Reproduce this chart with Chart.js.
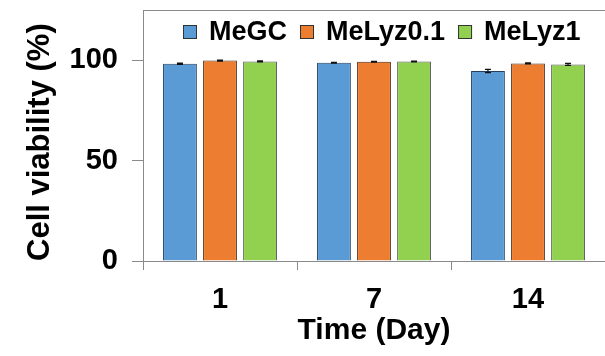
<!DOCTYPE html>
<html lang="en">
<head>
<meta charset="UTF-8">
<title>Cell viability over time</title>
<script src="https://cdn.jsdelivr.net/npm/chart.js"></script>
<style>
  body { margin: 0; background: #fff; }
</style>
</head>
<body>
<canvas id="chart" width="605" height="356"></canvas>
<script>
// data
const days = ['1', '7', '14'];
const seriesNames = ['MeGC', 'MeLyz0.1', 'MeLyz1'];
const megc = [98.2, 98.7, 94.6];
const melyz01 = [99.8, 99.2, 98.4];
const melyz1 = [99.4, 99.4, 97.9];
const megcErr = [0.3, 0.2, 0.8];
const melyz01Err = [0.3, 0.2, 0.3];
const melyz1Err = [0.3, 0.2, 0.5];
const yTicks = [0, 50, 100];

const FONT = '"Liberation Sans", Arial, sans-serif';
const AXIS = '#8a8a8a';

// small error bars on top of each bar
const errorBars = {
    id: 'errorBars',
    afterDatasetsDraw(chart) {
        const {ctx, scales: {y}} = chart;
        ctx.save();
        ctx.strokeStyle = '#111';
        ctx.lineWidth = 1.2;
        chart.data.datasets.forEach((ds, i) => {
            chart.getDatasetMeta(i).data.forEach((bar, j) => {
                const v = ds.data[j], e = ds.errors[j];
                const top = y.getPixelForValue(v + e);
                const bot = y.getPixelForValue(v - e);
                ctx.beginPath();
                ctx.moveTo(bar.x, top); ctx.lineTo(bar.x, bot);
                ctx.moveTo(bar.x - 3, top); ctx.lineTo(bar.x + 3, top);
                ctx.moveTo(bar.x - 3, bot); ctx.lineTo(bar.x + 3, bot);
                ctx.stroke();
            });
        });
        ctx.restore();
    }
};

// top frame line + legend inside the plot box
const frameAndLegend = {
    id: 'frameAndLegend',
    afterDraw(chart) {
        const {ctx, chartArea} = chart;
        ctx.save();
        ctx.strokeStyle = AXIS;
        ctx.lineWidth = 1;
        ctx.beginPath();
        ctx.moveTo(chartArea.left, chartArea.top + 0.5);
        ctx.lineTo(chartArea.right, chartArea.top + 0.5);
        ctx.stroke();

        ctx.font = 'bold 27px ' + FONT;
        ctx.textBaseline = 'middle';
        const box = 14;
        const y = chartArea.top + 22;
        let x = chartArea.left + 40;
        chart.data.datasets.forEach(ds => {
            ctx.fillStyle = ds.backgroundColor;
            ctx.fillRect(x, y - box / 2, box, box);
            ctx.strokeStyle = '#333';
            ctx.strokeRect(x + 0.5, y - box / 2 + 0.5, box - 1, box - 1);
            x += box + 12;
            ctx.fillStyle = '#000';
            ctx.fillText(ds.label, x, y + 1);
            x += ctx.measureText(ds.label).width + 13;
        });
        ctx.restore();
    }
};

new Chart(document.getElementById('chart'), {
    type: 'bar',
    data: {
        labels: days,
        datasets: [
            { label: seriesNames[0], data: megc, errors: megcErr, backgroundColor: '#5B9BD5', borderColor: '#23405f' },
            { label: seriesNames[1], data: melyz01, errors: melyz01Err, backgroundColor: '#ED7D31', borderColor: '#4a2c14' },
            { label: seriesNames[2], data: melyz1, errors: melyz1Err, backgroundColor: '#92D050', borderColor: '#555' }
        ]
    },
    options: {
        responsive: false,
        animation: false,
        layout: { padding: { top: 10, left: 0, right: 0, bottom: 0 } },
        datasets: {
            bar: { borderWidth: 1, categoryPercentage: 0.78, barPercentage: 0.845 }
        },
        plugins: {
            legend: { display: false },
            tooltip: { enabled: false }
        },
        scales: {
            x: {
                grid: { offset: true, drawOnChartArea: false, tickLength: 9, color: AXIS },
                border: { color: AXIS },
                ticks: { color: '#000', padding: 13, font: { family: FONT, size: 29, weight: 'bold' } },
                title: {
                    display: true, text: 'Time (Day)', color: '#000',
                    padding: { top: 0, bottom: 7 },
                    font: { family: FONT, size: 30, weight: 'bold' }
                },
                afterFit: s => { s.height = 95; s.paddingLeft = 0; s.paddingRight = 0; }
            },
            y: {
                min: 0, max: 125,
                afterBuildTicks: s => { s.ticks = yTicks.map(v => ({ value: v })); },
                grid: { drawOnChartArea: false, tickLength: 11, color: AXIS },
                border: { color: AXIS },
                ticks: { color: '#000', padding: 14, font: { family: FONT, size: 29, weight: 'bold' } },
                title: {
                    display: true, text: 'Cell viability (%)', color: '#000', align: 'start',
                    padding: { top: 22, bottom: 0 },
                    font: { family: FONT, size: 31, weight: 'bold' }
                },
                afterFit: s => { s.width = 143; s.paddingTop = 0; s.paddingBottom = 0; }
            }
        }
    },
    plugins: [errorBars, frameAndLegend]
});
</script>
</body>
</html>
